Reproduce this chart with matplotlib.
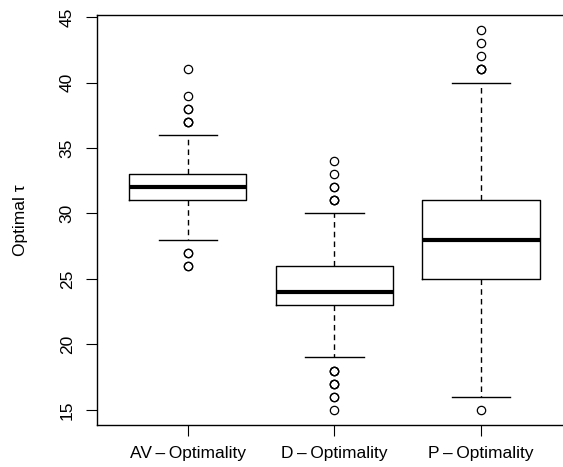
import matplotlib.pyplot as plt

plt.rcParams['font.family'] = ['Liberation Sans', 'DejaVu Sans']

labels = ['AV\u2009\u2013\u2009Optimality', 'D\u2009\u2013\u2009Optimality', 'P\u2009\u2013\u2009Optimality']
q1 = [31, 23, 25]
med = [32, 24, 28]
q3 = [33, 26, 31]
whislo = [28, 19, 16]
whishi = [36, 30, 40]
# repeated values are overplotted, which makes those circles look bold
fliers = [
    [41, 39, 38, 38, 37, 37, 37, 27, 27, 26, 26],
    [34, 33, 32, 32, 31, 31, 31, 18, 18, 18, 17, 17, 17, 16, 16, 15],
    [44, 43, 42, 41, 41, 41, 15],
]
yticks = [15, 20, 25, 30, 35, 40, 45]

stats = []
for i in range(3):
    stats.append(dict(label=labels[i], q1=q1[i], med=med[i], q3=q3[i],
                      whislo=whislo[i], whishi=whishi[i], fliers=fliers[i]))

fig = plt.figure(figsize=(5.63, 4.67), dpi=100)
ax = fig.add_axes([97/563, 42/467, 474.8/563, 410/467])

ax.bxp(stats, positions=[1, 2, 3], widths=0.8, capwidths=0.4,
       boxprops=dict(color='black', lw=1),
       whiskerprops=dict(color='black', lw=1, linestyle=(0, (4, 3))),
       capprops=dict(color='black', lw=1),
       medianprops=dict(color='black', lw=3, solid_capstyle='butt'),
       flierprops=dict(marker='o', markerfacecolor='none', markeredgecolor='black',
                       markersize=6, markeredgewidth=0.9, linestyle='none'))

ax.set_xlim(0.38, 3.62)
ax.set_ylim(13.84, 45.16)
ax.set_yticks(yticks)
ax.set_yticklabels([str(t) for t in yticks], rotation=90, va='center')
ax.tick_params(axis='y', length=8, width=0.8, pad=8, labelsize=12.5)
ax.tick_params(axis='x', length=8, width=0.8, pad=7, labelsize=12.5)
ax.set_ylabel('Optimal \u03c4', fontsize=12.5, labelpad=23)

for s in ax.spines.values():
    s.set_linewidth(1)

fig.savefig('out.png', dpi=100)
